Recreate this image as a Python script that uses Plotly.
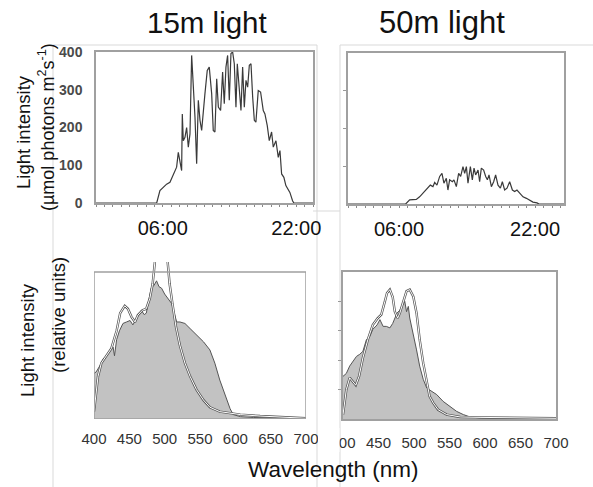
import plotly.graph_objects as go

# ---- daily light course (µmol photons m-2 s-1) ----
hours_15m = [-2, 5.27, 5.66, 6.46, 6.86, 7.26, 7.66, 7.86, 8.06, 8.26, 8.34, 8.46, 8.66, 8.86,
             9.06, 9.26, 9.46, 9.66, 9.86, 10.06, 10.26, 10.46, 10.66, 11.05, 11.33, 11.57,
             11.86, 12.05, 12.25, 12.46, 12.66, 12.93, 13.17, 13.37, 13.57, 13.77, 13.97,
             14.17, 14.37, 14.57, 14.77, 14.93, 15.17, 15.37, 15.57, 15.77, 15.97, 16.17,
             16.37, 16.57, 16.77, 16.97, 17.16, 17.44, 17.72, 18.04, 18.24, 18.52, 18.76,
             19.04, 19.24, 19.56, 19.84, 20.04, 20.24, 20.51, 20.75, 21.03, 21.23, 21.55,
             21.71, 24]
par_15m = [0, 0, 33, 50, 55, 73, 95, 134, 112, 86, 236, 165, 174, 200,
           148, 183, 391, 316, 227, 104, 272, 219, 192, 289, 351, 360,
           289, 192, 188, 329, 254, 245, 347, 263, 360, 391, 272,
           396, 400, 369, 254, 369, 307, 245, 360, 254, 325, 307,
           365, 369, 281, 219, 214, 298, 294, 245, 236, 205, 165,
           188, 148, 165, 121, 139, 77, 68, 46, 33, 28, 6,
           0, 0]

hours_50m = [0, 6.78, 7.25, 8.03, 8.42, 9.01, 9.40, 9.68, 9.99, 10.19, 10.46, 10.78, 11.05,
             11.28, 11.56, 11.75, 11.95, 12.27, 12.46, 12.74, 13.01, 13.25, 13.52, 13.72,
             13.92, 14.11, 14.39, 14.62, 14.82, 15.01, 15.29, 15.48, 15.68, 15.95, 16.19,
             16.39, 16.58, 16.86, 17.13, 17.36, 17.64, 17.92, 18.15, 18.42, 18.70, 19.01,
             19.33, 19.60, 19.87, 20.19, 20.58, 20.98, 21.36, 21.75, 22.22, 22.46, 25.4]
par_50m = [0, 0, 11, 12, 19, 33, 42, 50, 46, 57, 50, 73, 81,
           55, 68, 37, 64, 59, 64, 46, 81, 73, 99, 81,
           99, 55, 99, 64, 95, 77, 90, 59, 95, 90, 73,
           64, 77, 46, 59, 77, 50, 42, 59, 37, 42, 59,
           37, 33, 37, 28, 19, 15, 11, 5, 3, 0, 0]

time_ticks = [6, 22]
time_labels = ["06:00", "22:00"]
par_ticks = [0, 100, 200, 300, 400]

# ---- spectra (relative units) ----
wl_15m_a = [400, 403, 408, 413, 417.5, 422, 427, 429, 432, 436, 441, 446, 451, 455, 460, 465,
            467, 471, 474, 478, 481, 485, 488.5, 492, 495.6, 500, 505, 510, 513, 517, 521.6,
            528.7, 536, 545, 555, 564, 571, 578, 585.5, 592.6, 597, 607, 626, 700]
rel_15m_a = [31, 32, 36, 41, 43, 46, 49, 43, 54, 60, 65, 66, 67, 64, 68, 72,
             74, 71, 72, 82, 89, 91, 94, 90, 89, 85, 82, 78.5, 73, 66, 66,
             65, 61.5, 57, 52.5, 47, 38, 26.5, 16, 7, 3, 1.6, 1, 0.2]

wl_15m_b = [400, 405.7, 410.4, 417.5, 424.6, 432, 437, 443.5, 448, 453, 458, 462, 468.6, 474,
            479, 483, 486, 490, 495, 500, 504, 507, 511, 516, 521.6, 528.7, 536, 545, 554.7,
            564, 578, 592.6, 607, 635, 700]
rel_15m_b = [5, 29, 38, 43, 48, 60, 72, 77, 75, 69.5, 66, 70.6, 74, 75,
             82, 92, 108, 125, 132, 125, 108, 92, 78.5, 62.7, 50, 38, 29, 20, 13,
             8, 5, 4, 3, 2, 0.5]

wl_50m_a = [400, 404.7, 409.4, 414, 419, 423.5, 428, 433, 437.7, 442, 448, 452, 456.5, 461, 466,
            470, 473, 476, 480, 484, 487, 489.5, 492, 494, 499, 503.6, 508, 513, 518, 525,
            532, 541, 551, 560, 569.5, 579, 593, 700]
rel_50m_a = [29, 31, 36, 39, 42.6, 44, 46, 54, 56, 61, 64, 67.6, 63, 63, 62,
             65, 68.7, 72, 74, 78, 80, 73, 76.6, 68.7, 58.5, 47, 36, 27, 21, 19,
             16.6, 12, 8.6, 5.2, 3, 1.4, 0.7, 0.2]

wl_50m_b = [400, 404.7, 409.4, 414, 418, 422.6, 428, 435, 442, 449, 454, 459, 462, 466, 470,
            473, 477, 480, 485, 489.5, 494, 499, 503.6, 508, 513, 518, 522, 527, 534, 546,
            565, 593, 645, 700]
rel_50m_b = [3, 20, 28, 25.6, 23, 29, 41.5, 54, 64, 68.7, 71, 80, 85.7, 88, 83,
             73, 68.7, 72, 80, 87, 88, 83.4, 72, 54, 38, 24.5, 15.4, 11, 6.3, 3,
             1.4, 1.1, 0.9, 0.5]

wl_ticks = [400, 450, 500, 550, 600, 650, 700]
rel_ticks_50m = [20, 40, 60, 80]

W, H = 593, 487
FONT = "Liberation Sans, Arial, sans-serif"


def px(x):
    return x / W


def py(y):
    return 1 - y / H


fig = go.Figure()

line_dark = "#3a3a3a"
# top panels: daily light
fig.add_trace(go.Scatter(x=hours_15m, y=par_15m, mode="lines",
                         line=dict(color=line_dark, width=1.2), xaxis="x", yaxis="y"))
fig.add_trace(go.Scatter(x=hours_50m, y=par_50m, mode="lines",
                         line=dict(color=line_dark, width=1.2), xaxis="x2", yaxis="y2"))

# bottom panels: spectra (filled + outlined white curve)
for wa, ra, wb, rb, xa, ya in [(wl_15m_a, rel_15m_a, wl_15m_b, rel_15m_b, "x3", "y3"),
                               (wl_50m_a, rel_50m_a, wl_50m_b, rel_50m_b, "x4", "y4")]:
    fig.add_trace(go.Scatter(x=wa, y=ra, mode="lines", fill="tozeroy",
                             fillcolor="#c2c2c2", line=dict(color="#555555", width=1),
                             xaxis=xa, yaxis=ya))
    fig.add_trace(go.Scatter(x=wb, y=rb, mode="lines",
                             line=dict(color="#555555", width=2.4), xaxis=xa, yaxis=ya))
    fig.add_trace(go.Scatter(x=wb, y=rb, mode="lines",
                             line=dict(color="#ffffff", width=1.0), xaxis=xa, yaxis=ya))

frame = dict(showline=True, mirror=True, linecolor="#a0a0a0", linewidth=1.5,
             showgrid=False, zeroline=False, automargin=False)
bare = dict(showline=False, showgrid=False, zeroline=False, automargin=False)
tick_small = dict(family=FONT, size=14, color="#4a4a4a")
tick_time = dict(family=FONT, size=20, color="#111111")
tick_wl = dict(family=FONT, size=15, color="#333333")
minor_hours = dict(tickmode="linear", tick0=0, dtick=1, ticks="outside",
                   ticklen=2, tickcolor="#888888")

fig.update_layout(
    width=W, height=H, margin=dict(l=0, r=0, t=0, b=0, pad=0, autoexpand=False),
    paper_bgcolor="white", plot_bgcolor="white", showlegend=False,
    font=dict(family=FONT, color="#111111"),
    xaxis=dict(domain=[px(96), px(313)], range=[-2, 24], anchor="y",
               tickmode="array", tickvals=time_ticks, ticktext=time_labels,
               ticks="", ticklabelstandoff=6, tickfont=tick_time, minor=minor_hours, **frame),
    yaxis=dict(domain=[py(203), py(52)], range=[0, 400], anchor="x",
               tickmode="array", tickvals=par_ticks,
               ticktext=[f"<b>{v}</b>" for v in par_ticks], ticks="", ticklabelstandoff=9,
               tickfont=tick_small, **frame),
    xaxis2=dict(domain=[px(348), px(564)], range=[0, 25.4], anchor="y2",
                tickmode="array", tickvals=time_ticks, ticktext=time_labels,
                ticks="", ticklabelstandoff=6, tickfont=tick_time, minor=minor_hours, **frame),
    yaxis2=dict(domain=[py(204), py(53)], range=[0, 400], anchor="x2",
                tickmode="array", tickvals=[100, 200, 300], showticklabels=False,
                ticks="outside", ticklen=3, tickcolor="#999999", **frame),
    xaxis3=dict(domain=[px(94), px(306)], range=[400, 700], anchor="y3",
                tickmode="array", tickvals=wl_ticks, ticks="", ticklabelstandoff=9,
                tickfont=tick_wl, **bare),
    yaxis3=dict(domain=[py(419), py(262)], range=[0, 100 * 157 / 147], anchor="x3",
                showticklabels=False, ticks="", **bare),
    xaxis4=dict(domain=[px(343), px(556)], range=[400, 700], anchor="y4",
                tickmode="array", tickvals=wl_ticks, ticks="", ticklabelstandoff=9,
                tickfont=tick_wl, **frame),
    yaxis4=dict(domain=[py(419), py(272)], range=[0, 100], anchor="x4",
                tickmode="array", tickvals=rel_ticks_50m, showticklabels=False,
                ticks="outside", ticklen=3, tickcolor="#999999", **frame),
)

shapes = []
edge = dict(color="#d9d9d9", width=1)
# light panel borders
for x0, y0, x1, y1 in [(53, 45, 53, 487), (53, 45, 317, 45), (317, 45, 317, 487),
                       (340, 45, 340, 487), (340, 45, 593, 45), (313, 211, 340, 211)]:
    shapes.append(dict(type="line", xref="paper", yref="paper", x0=px(x0), y0=py(y0),
                       x1=px(x1), y1=py(y1), line=edge, layer="below"))
# frame of the 15 m spectrum panel (curve may run past its top edge)
shapes.append(dict(type="rect", xref="x3", yref="y3", x0=400, x1=700, y0=0, y1=100,
                   line=dict(color="#a0a0a0", width=1.5), layer="above"))
# gap between the two spectrum panels
shapes.append(dict(type="rect", xref="paper", yref="paper", x0=px(318), x1=px(339.5),
                   y0=py(452), y1=py(428), fillcolor="white", line=dict(width=0),
                   layer="above"))
fig.update_layout(shapes=shapes)

ann = [
    dict(text="15m light", x=px(207), y=py(23), font=dict(size=29.5, color="#111111")),
    dict(text="50m light", x=px(442), y=py(23), font=dict(size=31, color="#111111")),
    dict(text="Wavelength (nm)", x=px(333), y=py(469), font=dict(size=22.5, color="#111111")),
    dict(text="Light intensity", x=px(23), y=py(132), textangle=-90,
         font=dict(size=18.5, color="#111111")),
    dict(text="(µmol photons m<sup>2</sup>s<sup>-1</sup>)", x=px(47), y=py(127), textangle=-90,
         font=dict(size=18, color="#111111")),
    dict(text="Light intensity", x=px(27), y=py(340), textangle=-90,
         font=dict(size=18.5, color="#111111")),
    dict(text="(relative units)", x=px(58), y=py(315), textangle=-90,
         font=dict(size=18.5, color="#111111")),
]
for a in ann:
    a.update(xref="paper", yref="paper", showarrow=False, xanchor="center", yanchor="middle")
fig.update_layout(annotations=ann)

fig.write_html("out.html")
